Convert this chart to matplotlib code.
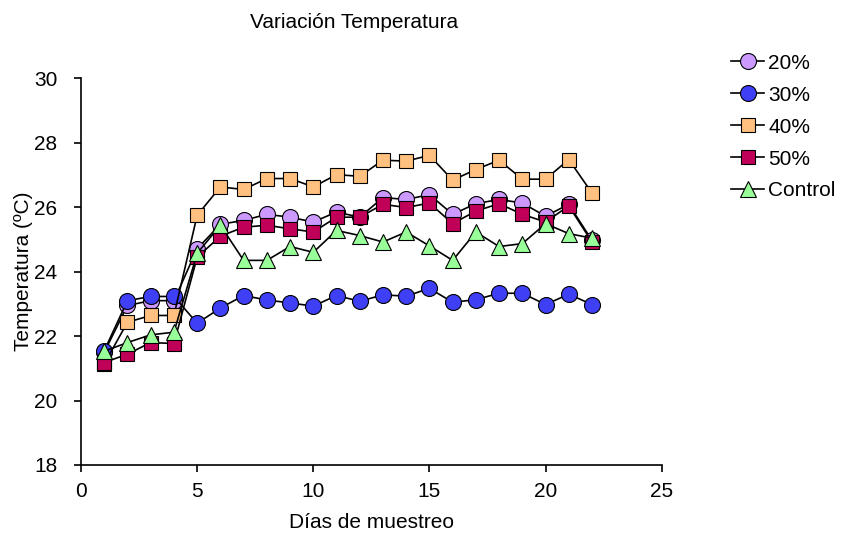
import matplotlib.pyplot as plt

plt.rcParams["font.family"] = ["Liberation Sans", "DejaVu Sans"]

# Sampling days
dias = list(range(1, 23))

# Temperature (ºC) per treatment
t20 = [21.5, 22.95, 23.1, 23.1, 24.71, 25.47, 25.59, 25.78, 25.69, 25.54, 25.85,
       25.69, 26.30, 26.24, 26.39, 25.78, 26.11, 26.24, 26.13, 25.72, 26.09, 24.97]
t30 = [21.55, 23.1, 23.23, 23.23, 22.40, 22.87, 23.26, 23.12, 23.03, 22.93, 23.26,
       23.08, 23.28, 23.24, 23.48, 23.05, 23.13, 23.33, 23.33, 22.98, 23.30, 22.98]
t40 = [21.14, 22.43, 22.64, 22.64, 25.75, 26.63, 26.55, 26.89, 26.89, 26.63, 27.01,
       26.96, 27.46, 27.43, 27.61, 26.84, 27.17, 27.46, 26.87, 26.87, 27.48, 26.44]
t50 = [21.18, 21.44, 21.80, 21.77, 24.45, 25.10, 25.38, 25.44, 25.33, 25.23, 25.69,
       25.69, 26.09, 25.99, 26.13, 25.49, 25.88, 26.11, 25.78, 25.54, 26.04, 24.92]
control = [21.53, 21.80, 22.04, 22.12, 24.57, 25.44, 24.35, 24.35, 24.78, 24.60, 25.28,
           25.12, 24.92, 25.23, 24.80, 24.35, 25.23, 24.78, 24.87, 25.49, 25.18, 25.04]

series = [
    ("20%", t20, "o", "#CC99FF", 11.5),
    ("30%", t30, "o", "#3F3FF5", 11.5),
    ("40%", t40, "s", "#FFC080", 10.5),
    ("50%", t50, "s", "#C00058", 10.5),
    ("Control", control, "^", "#99FF99", 12),
]

fig = plt.figure(figsize=(8.63, 5.39), dpi=100)
ax = fig.add_axes([0.0939, 0.1373, 0.6728, 0.7174])

for label, vals, marker, color, ms in series:
    ax.plot(dias, vals, color="black", lw=1.2, marker=marker, ms=ms,
            markerfacecolor=color, markeredgecolor="black", markeredgewidth=0.8,
            label=label)

ax.set_xlim(0, 25)
ax.set_ylim(18, 30)
ax.set_xticks(range(0, 26, 5))
ax.set_yticks(range(18, 31, 2))
ax.tick_params(direction="out", length=5, width=1.2, labelsize=15)
ax.tick_params(axis="x", pad=7)
ax.tick_params(axis="y", pad=12)
for side in ("top", "right"):
    ax.spines[side].set_visible(False)
for side in ("left", "bottom"):
    ax.spines[side].set_linewidth(1.2)

ax.set_title("Variación Temperatura", fontsize=15, pad=36, x=0.47)
ax.set_xlabel("Días de muestreo", fontsize=15, labelpad=9)
ax.set_ylabel("Temperatura (ºC)", fontsize=15, labelpad=1)

leg = ax.legend(loc="upper left", bbox_to_anchor=(1.105, 1.085), frameon=False,
                fontsize=15, handlelength=1.6, handletextpad=0.2,
                labelspacing=0.62, borderaxespad=0)

fig.savefig("out.png", dpi=100, facecolor="white")
